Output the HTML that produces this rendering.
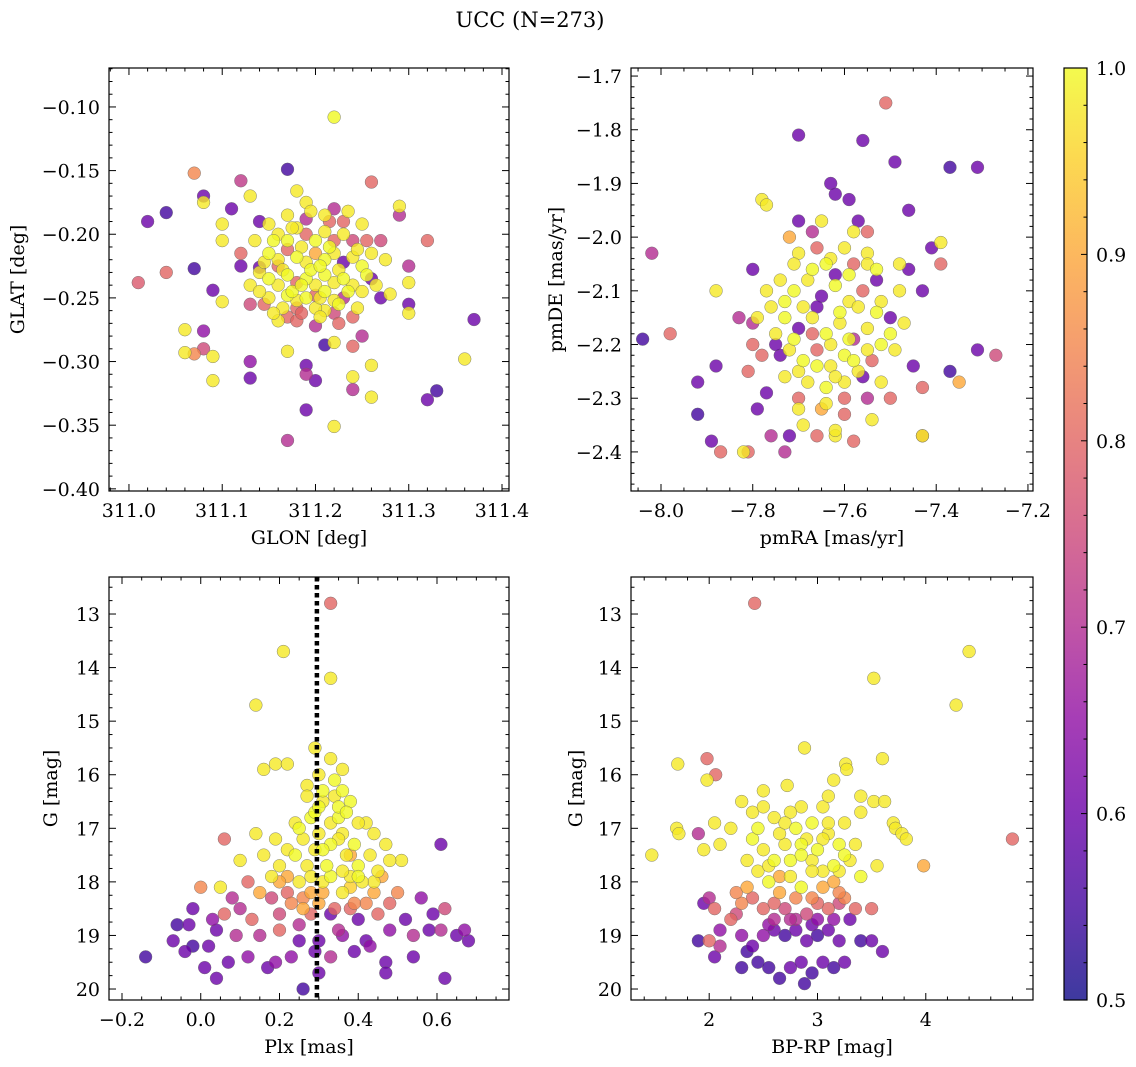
<!DOCTYPE html>
<html><head><meta charset="utf-8">
<style>
html,body{margin:0;padding:0;background:#fff;}
svg{display:block;font-family:"DejaVu Serif","Liberation Serif",serif;}
</style></head>
<body>
<svg id="fig" width="1136" height="1067" viewBox="0 0 1136 1067">
<text x="530" y="27" font-size="21" text-anchor="middle">UCC (N=273)</text>
</svg>
<script>
// ---- data: panel 1 (GLON, GLAT, probability) ----
const glon1a=[311.22,311.17,311.07,311.08,311.02,311.04,311.12,311.13,311.10,311.08,311.26,311.29,311.29,311.32,311.30,311.01,311.04,311.07,311.09,311.10,311.13,311.06,311.08,311.06,311.07,311.08,311.09,311.09,311.13,311.13,311.17,311.19,311.19,311.19,311.17,311.21,311.20,311.22,311.24,311.24,311.26,311.26,311.30,311.30,311.32,311.33,311.36,311.37,311.27,311.28,311.30,311.26,311.26,311.27,311.25,311.10,311.12,311.12,311.14,311.11,311.14,311.15,311.18,311.19,311.22,311.16,311.17,311.18,311.20,311.22,311.24,311.25,311.24,311.21,311.16,311.17,311.18,311.19,311.20,311.21,311.22,311.23,311.24,311.15,311.16,311.17,311.18,311.19,311.20,311.21,311.22,311.23,311.24,311.25,311.14,311.15,311.16,311.17,311.18,311.19,311.20,311.21,311.22,311.23,311.24,311.25,311.15,311.17,311.18,311.19,311.20,311.21,311.22,311.23,311.18,311.20,311.22,311.16,311.13,311.14,311.19,311.21,311.23,311.17];
const glat1a=[-0.108,-0.149,-0.152,-0.170,-0.190,-0.183,-0.158,-0.170,-0.192,-0.175,-0.159,-0.178,-0.185,-0.205,-0.225,-0.238,-0.230,-0.227,-0.244,-0.253,-0.255,-0.275,-0.276,-0.293,-0.294,-0.290,-0.296,-0.315,-0.300,-0.313,-0.292,-0.303,-0.310,-0.338,-0.362,-0.287,-0.315,-0.351,-0.312,-0.322,-0.303,-0.328,-0.262,-0.255,-0.330,-0.323,-0.298,-0.267,-0.250,-0.247,-0.238,-0.235,-0.215,-0.205,-0.192,-0.205,-0.215,-0.225,-0.226,-0.180,-0.190,-0.192,-0.166,-0.175,-0.180,-0.268,-0.265,-0.268,-0.272,-0.285,-0.288,-0.280,-0.265,-0.260,-0.200,-0.205,-0.195,-0.200,-0.205,-0.198,-0.205,-0.200,-0.205,-0.215,-0.220,-0.212,-0.218,-0.222,-0.215,-0.220,-0.215,-0.222,-0.218,-0.225,-0.230,-0.235,-0.240,-0.232,-0.238,-0.235,-0.240,-0.232,-0.238,-0.235,-0.240,-0.245,-0.250,-0.248,-0.252,-0.250,-0.248,-0.245,-0.252,-0.250,-0.258,-0.258,-0.262,-0.225,-0.240,-0.245,-0.188,-0.185,-0.190,-0.185];
const prob1a=[1,0.55,0.85,0.6,0.6,0.55,0.72,0.98,0.98,0.98,0.8,0.98,0.7,0.8,0.7,0.78,0.8,0.55,0.6,0.98,0.75,0.98,0.65,0.98,0.85,0.75,0.98,0.98,0.65,0.6,0.98,0.6,0.7,0.6,0.7,0.55,0.6,0.98,0.98,0.7,0.98,0.98,0.98,0.6,0.6,0.55,0.98,0.6,0.6,0.98,0.98,0.6,0.98,0.75,0.98,0.98,0.8,0.6,0.6,0.6,0.6,0.98,0.98,0.98,0.7,0.98,0.8,0.8,0.7,0.98,0.8,0.7,0.8,0.98,0.98,1,0.98,0.8,1,0.98,0.8,0.98,0.75,1,0.98,0.8,1,0.98,0.9,1,0.98,0.6,0.98,1,0.98,1,0.98,1,0.8,1,0.98,1,0.98,1,0.98,0.98,0.98,1,0.98,1,0.8,1,0.98,0.7,0.8,0.98,0.75,0.8,0.98,0.98,0.7,0.98,0.8,0.98];
const glon1b=[311.155,311.165,311.175,311.185,311.195,311.205,311.215,311.225,311.235,311.245,311.255,311.165,311.185,311.205,311.225,311.145,311.135,311.175,311.215,311.235,311.195,311.265,311.155,311.245,311.255,311.205,311.185,311.225,311.145,311.275];
const glat1b=[-0.205,-0.228,-0.245,-0.210,-0.228,-0.250,-0.210,-0.228,-0.245,-0.212,-0.232,-0.258,-0.262,-0.265,-0.270,-0.222,-0.205,-0.195,-0.190,-0.182,-0.182,-0.240,-0.262,-0.258,-0.205,-0.225,-0.240,-0.255,-0.255,-0.220];
const prob1b=[1,0.98,1,0.98,1,0.98,1,0.98,1,0.98,1,0.98,0.8,0.98,0.8,0.98,0.98,0.98,0.8,0.98,0.98,0.98,0.98,0.98,0.8,1,1,1,0.8,0.98];
const glon1=glon1a.concat(glon1b), glat1=glat1a.concat(glat1b), prob1=prob1a.concat(prob1b);
// ---- panel 2 (pmRA, pmDE, probability) ----
const pmra2a=[-7.51,-7.70,-7.56,-7.49,-7.37,-7.31,-7.63,-7.62,-7.46,-7.59,-7.78,-7.77,-7.70,-7.57,-7.55,-8.02,-7.41,-7.39,-7.39,-7.43,-7.48,-7.46,-7.98,-8.04,-7.88,-7.31,-7.27,-7.37,-7.35,-7.43,-7.45,-7.43,-7.43,-7.92,-7.92,-7.89,-7.87,-7.82,-7.81,-7.88,-7.83,-7.80,-7.77,-7.79,-7.76,-7.73,-7.72,-7.69,-7.66,-7.62,-7.58,-7.54,-7.55,-7.50,-7.60,-7.65,-7.70,-7.73,-7.74,-7.75,-7.80,-7.79,-7.80,-7.81,-7.72,-7.70,-7.66,-7.64,-7.60,-7.58,-7.55,-7.53,-7.74,-7.71,-7.68,-7.65,-7.62,-7.59,-7.56,-7.52,-7.50,-7.76,-7.73,-7.70,-7.67,-7.64,-7.61,-7.58,-7.55,-7.52,-7.72,-7.69,-7.66,-7.63,-7.60,-7.57,-7.54,-7.68,-7.64,-7.60,-7.56,-7.47,-7.49,-7.62,-7.66,-7.53,-7.58,-7.67];
const pmde2a=[-1.75,-1.81,-1.82,-1.86,-1.87,-1.87,-1.90,-1.92,-1.95,-1.93,-1.93,-1.94,-1.97,-1.97,-1.99,-2.03,-2.02,-2.01,-2.05,-2.10,-2.10,-2.06,-2.18,-2.19,-2.10,-2.21,-2.22,-2.25,-2.27,-2.28,-2.24,-2.37,-2.37,-2.27,-2.33,-2.38,-2.40,-2.40,-2.40,-2.24,-2.15,-2.06,-2.29,-2.32,-2.37,-2.40,-2.37,-2.35,-2.37,-2.37,-2.38,-2.34,-2.30,-2.30,-2.33,-2.32,-2.30,-2.26,-2.22,-2.20,-2.20,-2.15,-2.16,-2.25,-2.00,-2.03,-2.02,-2.05,-2.02,-2.05,-2.03,-2.06,-2.08,-2.10,-2.08,-2.11,-2.09,-2.12,-2.10,-2.12,-2.15,-2.13,-2.15,-2.17,-2.15,-2.18,-2.16,-2.19,-2.17,-2.20,-2.21,-2.23,-2.21,-2.24,-2.22,-2.25,-2.23,-2.27,-2.28,-2.27,-2.26,-2.16,-2.21,-2.07,-2.13,-2.08,-1.99,-1.99];
const prob2a=[0.8,0.6,0.6,0.6,0.55,0.6,0.6,0.6,0.6,0.6,0.98,0.98,0.6,0.6,0.8,0.7,0.6,0.98,0.8,0.6,0.98,0.6,0.8,0.55,0.98,0.6,0.75,0.55,0.9,0.8,0.6,0.8,0.98,0.6,0.55,0.6,0.8,0.98,0.8,0.6,0.7,0.6,0.6,0.6,0.7,0.7,0.6,0.98,0.8,0.98,0.8,0.98,0.7,0.8,0.8,0.9,0.8,0.98,0.6,0.6,0.8,0.98,0.7,0.8,0.9,0.98,0.8,1,0.98,0.8,0.98,1,0.98,1,0.98,0.6,1,0.98,0.8,0.98,0.6,0.98,1,0.6,0.98,1,0.98,0.7,0.98,1,0.98,1,0.8,0.98,1,0.98,0.8,0.98,1,0.98,0.6,0.98,0.98,0.6,0.6,0.6,0.98,0.7];
const pmra2b=[-7.71,-7.67,-7.63,-7.59,-7.55,-7.73,-7.69,-7.61,-7.57,-7.53,-7.75,-7.71,-7.67,-7.63,-7.59,-7.55,-7.70,-7.66,-7.62,-7.58,-7.64,-7.60,-7.52,-7.77,-7.78,-7.48,-7.50,-7.65,-7.62,-7.70];
const pmde2b=[-2.05,-2.06,-2.04,-2.07,-2.05,-2.12,-2.13,-2.14,-2.13,-2.14,-2.18,-2.19,-2.18,-2.20,-2.19,-2.21,-2.25,-2.24,-2.26,-2.23,-2.31,-2.30,-2.27,-2.10,-2.22,-2.05,-2.18,-1.97,-2.36,-2.32];
const prob2b=[0.98,1,0.98,1,0.98,1,0.98,1,0.98,1,0.98,1,0.8,0.98,1,0.98,0.98,1,0.98,1,0.98,0.8,0.98,0.98,0.8,0.98,1,0.98,0.98,0.98];
const pmra2=pmra2a.concat(pmra2b), pmde2=pmde2a.concat(pmde2b), prob2=prob2a.concat(prob2b);
// ---- panel 3 (Plx, G, probability) ----
const plx3a=[0.33,0.21,0.33,0.14,0.29,0.16,0.19,0.22,0.33,0.36,0.36,0.27,0.31,0.28,0.24,0.35,0.42,0.14,0.06,0.19,0.36,0.44,0.47,0.10,0.16,0.22,0.29,0.38,0.51,0.61,0.00,0.05,0.08,0.12,0.18,0.25,0.31,0.38,0.44,0.50,0.56,0.59,0.62,-0.02,0.03,0.06,0.10,0.13,0.20,0.26,0.33,0.38,0.45,0.52,0.58,-0.06,-0.03,0.04,0.09,0.15,0.20,0.25,0.30,0.36,0.42,0.48,0.54,0.61,0.65,0.67,0.68,-0.14,-0.07,-0.04,-0.02,0.02,0.04,0.01,0.07,0.12,0.17,0.19,0.23,0.26,0.29,0.33,0.39,0.43,0.47,0.54,0.47,0.62,0.30,0.25,0.30,0.33,0.37,0.40,0.27,0.22,0.33,0.41,0.28,0.36,0.22,0.42,0.30,0.18,0.35,0.30,0.38,0.46,0.48,0.25,0.35,0.40,0.15,0.20];
const g3a=[12.8,13.7,14.2,14.7,15.5,15.9,15.8,15.8,15.7,15.9,16.3,16.2,16.5,16.8,16.9,16.8,16.9,17.1,17.2,17.2,17.1,17.1,17.3,17.6,17.5,17.4,17.4,17.5,17.6,17.3,18.1,18.1,18.3,18.0,17.9,18.0,18.0,17.9,18.0,18.2,18.3,18.6,18.5,18.5,18.7,18.6,18.5,18.7,18.6,18.5,18.6,18.5,18.6,18.7,18.9,18.8,18.8,18.9,19.0,19.0,18.9,19.1,19.1,19.0,19.1,18.9,19.0,18.9,19.0,18.9,19.1,19.4,19.1,19.3,19.2,19.2,19.8,19.6,19.5,19.4,19.6,19.5,19.4,20.0,19.3,19.4,19.3,19.2,19.5,19.4,19.7,19.8,19.7,17.0,17.1,17.3,17.5,17.7,17.7,17.9,17.9,18.0,18.2,18.2,18.2,18.4,18.4,18.3,16.6,16.0,16.5,17.9,18.4,18.8,18.9,18.7,18.2,17.7];
const prob3a=[0.8,0.98,0.98,0.98,0.98,0.98,0.98,0.98,0.98,0.98,1,0.98,0.98,1,0.98,1,0.98,0.98,0.8,0.98,0.98,0.98,0.98,0.98,0.98,0.98,0.98,0.9,0.98,0.6,0.85,0.98,0.7,0.8,0.98,0.98,0.98,0.98,0.98,0.85,0.65,0.6,0.75,0.6,0.65,0.8,0.7,0.8,0.75,0.9,0.6,0.8,0.8,0.6,0.6,0.55,0.6,0.6,0.7,0.7,0.8,0.6,0.6,0.65,0.6,0.65,0.7,0.7,0.6,0.65,0.6,0.55,0.6,0.6,0.55,0.6,0.6,0.6,0.6,0.65,0.6,0.65,0.65,0.55,0.6,0.7,0.6,0.65,0.6,0.6,0.6,0.6,0.6,1,0.98,1,0.98,1,0.98,0.9,1,0.98,0.9,0.98,0.8,0.85,0.9,0.75,1,0.98,1,0.9,0.8,0.7,0.7,0.6,0.9,0.98];
const plx3b=[0.31,0.34,0.29,0.33,0.37,0.26,0.31,0.35,0.39,0.43,0.24,0.28,0.32,0.36,0.40,0.45,0.20,0.26,0.31,0.38,0.44,0.34,0.28,0.23,0.39,0.48,0.30,0.34,0.27,0.40];
const g3b=[16.3,16.4,16.7,16.9,16.7,17.2,17.4,17.2,17.3,17.5,17.5,17.9,17.7,17.8,17.9,17.8,18.0,18.3,18.2,18.1,18.2,18.5,18.6,18.4,18.4,17.6,16.6,16.1,16.4,16.9];
const prob3b=[1,0.98,1,0.98,1,0.98,1,0.98,1,0.98,1,0.98,1,0.98,1,0.98,0.9,0.85,0.9,0.95,0.9,0.8,0.8,0.85,0.85,0.98,1,1,0.98,0.98];
const plx3=plx3a.concat(plx3b), g3=g3a.concat(g3b), prob3=prob3a.concat(prob3b);
// ---- panel 4 (BP-RP, G, probability) ----
const bprp4a=[2.42,4.40,3.52,4.28,1.98,2.88,3.60,1.71,1.98,2.06,3.26,3.27,3.15,2.72,1.47,1.70,1.72,1.90,1.95,2.05,2.10,2.20,2.30,2.50,2.60,2.85,3.05,3.40,3.52,3.62,3.70,3.72,3.78,3.82,3.98,4.80,3.55,3.20,2.4,2.5,2.6,2.7,2.8,2.9,3.0,3.1,3.2,3.3,3.4,2.45,2.55,2.65,2.75,2.85,2.95,3.05,3.15,3.25,3.35,2.35,2.30,2.50,2.70,2.90,3.10,3.30,3.50,2.20,2.00,2.05,2.10,1.95,1.90,2.00,2.10,2.05,2.30,2.40,2.50,2.60,2.70,2.80,2.90,3.00,3.10,3.20,3.40,3.50,3.60,2.35,2.45,2.55,2.65,2.75,2.85,2.95,3.05,3.15,3.25,2.88,2.30,2.25,2.6,2.8,3.0,2.95,2.75,3.4,3.1,2.4];
const g4a=[12.8,13.7,14.2,14.7,15.7,15.5,15.7,15.8,16.1,16.0,15.8,15.9,16.1,16.2,17.5,17.0,17.1,17.1,17.4,16.9,17.3,17.0,16.5,16.3,16.8,16.6,16.6,16.4,16.5,16.5,16.9,17.0,17.1,17.2,17.7,17.2,17.7,17.8,17.2,17.4,17.6,17.3,17.0,17.2,17.4,17.1,17.3,17.6,17.9,17.8,18.0,18.2,17.9,18.1,18.3,17.8,18.0,18.3,18.5,18.1,18.4,18.5,18.5,18.6,18.5,18.7,18.5,18.7,18.3,18.5,18.9,18.4,19.1,19.1,19.2,19.4,19.0,19.2,19.0,18.9,19.0,18.9,19.1,19.0,18.9,19.1,19.1,19.1,19.3,19.3,19.5,19.6,19.8,19.6,19.5,19.7,19.5,19.6,19.5,19.9,19.6,18.2,18.7,18.7,18.7,17.6,16.7,16.7,16.9,16.7];
const prob4a=[0.8,0.98,0.98,0.98,0.8,0.98,0.98,0.98,0.98,0.8,0.98,0.98,0.98,0.98,0.98,0.98,0.98,0.7,0.98,0.98,0.98,0.98,0.98,0.98,0.98,0.98,0.98,0.98,0.98,0.98,0.98,0.98,0.98,0.98,0.9,0.8,0.98,0.98,1,0.98,1,0.98,1,0.98,1,0.98,1,0.98,1,0.98,1,0.9,0.98,1,0.85,0.98,0.9,0.85,0.8,0.9,0.85,0.8,0.75,0.75,0.8,0.6,0.8,0.8,0.7,0.8,0.65,0.6,0.55,0.8,0.7,0.6,0.65,0.6,0.65,0.6,0.55,0.6,0.6,0.55,0.6,0.6,0.55,0.6,0.6,0.55,0.55,0.55,0.55,0.6,0.6,0.55,0.6,0.55,0.6,0.55,0.55,0.85,0.7,0.7,0.65,0.98,0.98,0.98,0.98,0.98];
const bprp4b=[2.45,2.65,2.85,3.05,3.25,2.55,2.75,2.95,3.15,3.35,2.35,2.65,2.85,3.05,3.20,2.40,2.60,2.80,3.00,3.20,2.55,2.75,2.95,3.15,2.25,2.70,2.95,3.25,2.50,3.10];
const g4b=[17.0,17.1,17.3,17.2,17.5,17.7,17.6,17.8,17.7,17.3,17.6,17.9,17.5,18.1,18.2,18.3,18.4,18.3,18.4,18.4,18.8,18.7,18.8,18.7,18.6,16.9,16.9,16.9,16.6,16.4];
const prob4b=[1,0.98,1,0.98,1,0.98,1,0.98,1,0.98,0.98,0.9,1,0.9,0.85,0.8,0.8,0.85,0.8,0.75,0.65,0.7,0.6,0.65,0.75,0.98,1,0.98,0.98,0.98];
const bprp4=bprp4a.concat(bprp4b), g4=g4a.concat(g4b), prob4=prob4a.concat(prob4b);
const plxLine=0.295;
const cbTicks=[0.5,0.6,0.7,0.8,0.9,1.0];

const NS="http://www.w3.org/2000/svg";
const fig=document.getElementById('fig');
function mk(tag,attrs,parent){const e=document.createElementNS(NS,tag);for(const k in attrs)e.setAttribute(k,attrs[k]);(parent||fig).appendChild(e);return e;}
const stops=["#0d0887","#41049d","#6a00a8","#8f0da4","#b12a90","#cc4778","#e16462","#f2844b","#fca636","#fcce25","#f0f921"];
function hex(h){return[parseInt(h.substr(1,2),16),parseInt(h.substr(3,2),16),parseInt(h.substr(5,2),16)];}
function cmap(p){let t=Math.max(0,Math.min(1,(p-0.5)/0.5))*10;const i=Math.min(9,Math.floor(t)),f=t-i;const a=hex(stops[i]),b=hex(stops[i+1]);return`rgb(${a.map((v,k)=>Math.round(v+(b[k]-v)*f)).join(',')})`;}
function fmt(v,d){return (v<0?'\u2212':'')+Math.abs(v).toFixed(d);}

function panel(o){
  const g=mk('g',{});
  
  
  const X=v=>o.x0+(v-o.xmin)/(o.xmax-o.xmin)*(o.x1-o.x0);
  const Y=v=>o.inv? o.y0+(v-o.ymin)/(o.ymax-o.ymin)*(o.y1-o.y0) : o.y1-(v-o.ymin)/(o.ymax-o.ymin)*(o.y1-o.y0);
  const idx=o.xs.map((_,i)=>i).sort((a,b)=>o.ps[a]-o.ps[b]);
  const pg=mk('g',{},g);
  
  
  idx.forEach(i=>{
    const c=mk('circle',{cx:X(o.xs[i]),cy:Y(o.ys[i]),r:6.4,fill:cmap(o.ps[i]),'fill-opacity':0.8,stroke:'#666','stroke-width':0.4},pg);
    
    
  });
  if(o.vline!==undefined){
    const vx=X(o.vline);
    const l=mk('line',{x1:vx,x2:vx,y1:o.y0,y2:o.y1,stroke:'#000','stroke-width':4.5,'stroke-dasharray':'4.5 3.5'},g);
    
    
  }
  const fr=mk('rect',{x:o.x0,y:o.y0,width:o.x1-o.x0,height:o.y1-o.y0,fill:'none',stroke:'#000','stroke-width':1.2},g);
  
  
  const eps=1e-9;
  for(let v=Math.ceil(o.xmin/o.xmn-eps)*o.xmn; v<=o.xmax+eps; v+=o.xmn){
    const x=X(v);const maj=Math.abs(v/o.xmj-Math.round(v/o.xmj))<1e-6;const L=maj?7:3.5;
    mk('line',{x1:x,x2:x,y1:o.y1,y2:o.y1-L,stroke:'#000','stroke-width':1},g);
    mk('line',{x1:x,x2:x,y1:o.y0,y2:o.y0+L,stroke:'#000','stroke-width':1},g);
    if(maj){const t=mk('text',{x:x,y:o.y1+26,'font-size':19,'text-anchor':'middle'},g);t.textContent=fmt(Math.round(v/o.xmj)*o.xmj,o.xd);
      }
  }
  for(let v=Math.ceil(o.ymin/o.ymn-eps)*o.ymn; v<=o.ymax+eps; v+=o.ymn){
    const y=Y(v);const maj=Math.abs(v/o.ymj-Math.round(v/o.ymj))<1e-6;const L=maj?7:3.5;
    mk('line',{x1:o.x0,x2:o.x0+L,y1:y,y2:y,stroke:'#000','stroke-width':1},g);
    mk('line',{x1:o.x1,x2:o.x1-L,y1:y,y2:y,stroke:'#000','stroke-width':1},g);
    if(maj){const t=mk('text',{x:o.x0-9,y:y+7,'font-size':19,'text-anchor':'end'},g);t.textContent=fmt(Math.round(v/o.ymj)*o.ymj,o.yd);
      }
  }
  const xl=mk('text',{x:(o.x0+o.x1)/2,y:o.y1+53,'font-size':19,'text-anchor':'middle'},g);xl.textContent=o.xlab;
  
  const yx=o.ylx, yy=(o.y0+o.y1)/2;
  const yl=mk('text',{x:yx,y:yy,'font-size':19,'text-anchor':'middle',transform:`rotate(-90 ${yx} ${yy})`},g);yl.textContent=o.ylab;
  
}
panel({name:'glon-glat-panel',xs:glon1,ys:glat1,ps:prob1,x0:109,x1:509,y0:68,y1:491,xmin:310.9786,xmax:311.4075,ymin:-0.4017,ymax:-0.0694,xmj:0.1,xmn:0.02,ymj:0.05,ymn:0.01,xd:1,yd:2,xlab:'GLON [deg]',ylab:'GLAT [deg]',ylx:24});
panel({name:'proper-motion-panel',xs:pmra2,ys:pmde2,ps:prob2,x0:631,x1:1033,y0:68,y1:491,xmin:-8.0654,xmax:-7.189,ymin:-2.4728,ymax:-1.685,xmj:0.2,xmn:0.05,ymj:0.1,ymn:0.02,xd:1,yd:1,xlab:'pmRA [mas/yr]',ylab:'pmDE [mas/yr]',ylx:562});
panel({name:'parallax-magnitude-panel',xs:plx3,ys:g3,ps:prob3,x0:109,x1:509,y0:577,y1:1000,xmin:-0.233,xmax:0.7829,ymin:12.309,ymax:20.205,inv:true,xmj:0.2,xmn:0.05,ymj:1,ymn:0.25,xd:1,yd:0,xlab:'Plx [mas]',ylab:'G [mag]',ylx:57,vline:plxLine});
panel({name:'color-magnitude-panel',xs:bprp4,ys:g4,ps:prob4,x0:631,x1:1033,y0:577,y1:1000,xmin:1.278,xmax:4.99,ymin:12.309,ymax:20.205,inv:true,xmj:1,xmn:0.2,ymj:1,ymn:0.25,xd:0,yd:0,xlab:'BP-RP [mag]',ylab:'G [mag]',ylx:582});

// colorbar
const defs=mk('defs',{});
const lg=mk('linearGradient',{id:'cbg',x1:0,y1:1,x2:0,y2:0},defs);
stops.forEach((c,i)=>mk('stop',{offset:i/10,'stop-color':c},lg));
const cb=mk('g',{});


const cbx0=1064,cbx1=1087,cby0=68,cby1=1000;
mk('rect',{x:cbx0,y:cby0,width:cbx1-cbx0,height:cby1-cby0,fill:'url(#cbg)','fill-opacity':0.8},cb);
mk('rect',{x:cbx0,y:cby0,width:cbx1-cbx0,height:cby1-cby0,fill:'none',stroke:'#000','stroke-width':1.2},cb);
const CY=v=>cby1-(v-0.5)/0.5*(cby1-cby0);
for(let k=0;k<=25;k++){const v=0.5+k*0.02;const y=CY(v);const maj=k%5===0;
  mk('line',{x1:cbx1,x2:cbx1-(maj?6:3.5),y1:y,y2:y,stroke:'#000','stroke-width':1},cb);}
cbTicks.forEach(v=>{const t=mk('text',{x:cbx1+9,y:CY(v)+7,'font-size':19},cb);t.textContent=v.toFixed(1);
  });
</script>
</body></html>
